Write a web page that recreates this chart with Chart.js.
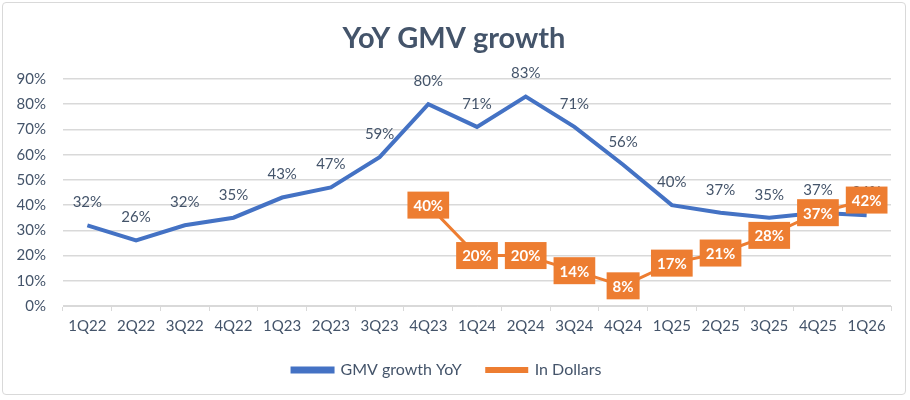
<!DOCTYPE html>
<html>
<head>
<meta charset="utf-8">
<script src="https://cdn.jsdelivr.net/npm/chart.js@4.4.1/dist/chart.umd.min.js"></script>
<style>
    html, body { margin: 0; padding: 0; background: #fff; }
    #wrap {
        position: absolute;
        left: 2px;
        top: 2px;
        width: 904px;
        height: 393px;
        border: 1px solid #d9d9d9;
        border-radius: 4px;
        box-sizing: border-box;
    }
    canvas { display: block; }
</style>
</head>
<body>
<div id="wrap"><canvas id="growthChart"></canvas></div>
<script>
const quarters = ["1Q22", "2Q22", "3Q22", "4Q22", "1Q23", "2Q23", "3Q23", "4Q23", "1Q24", "2Q24", "3Q24", "4Q24", "1Q25", "2Q25", "3Q25", "4Q25", "1Q26"];
const gmvGrowth = [32, 26, 32, 35, 43, 47, 59, 80, 71, 83, 71, 56, 40, 37, 35, 37, 36];
const inDollars = [null, null, null, null, null, null, null, 40, 20, 20, 14, 8, 17, 21, 28, 37, 42];
const yTicks = [0, 10, 20, 30, 40, 50, 60, 70, 80, 90];
const chartTitle = "YoY GMV growth";

const COLORS = {
    BLUE: "#4472C4",
    ORANGE: "#ED7D31",
    TEXT: "#44546A",
    GRID: "#d9d9d9",
};
const FONT = "Lato, 'Open Sans', sans-serif";

// title drawn at the middle of the whole canvas (built-in one is shifted by the padding)
const centeredTitle = {
    id: "centeredTitle",
    afterDraw(chart) {
        const ctx = chart.ctx;
        ctx.save();
        ctx.font = `bold 29px ${FONT}`;
        ctx.fillStyle = COLORS.TEXT;
        ctx.textAlign = "center";
        ctx.textBaseline = "middle";
        ctx.fillText(chartTitle, chart.width / 2, 36);
        ctx.restore();
    },
};

// draws the value labels (blue ones above the point, orange ones in a filled box)
const valueLabels = {
    id: "valueLabels",
    afterDatasetsDraw(chart) {
        const ctx = chart.ctx;
        ctx.save();
        ctx.textAlign = "center";
        ctx.textBaseline = "middle";

        const blueMeta = chart.getDatasetMeta(0);
        ctx.font = `15px ${FONT}`;
        ctx.fillStyle = COLORS.TEXT;
        blueMeta.data.forEach((pt, i) => {
            const v = chart.data.datasets[0].data[i];
            if (v == null) return;
            ctx.fillText(v + "%", pt.x, pt.y - 23);
        });

        const orangeMeta = chart.getDatasetMeta(1);
        ctx.font = `bold 15px ${FONT}`;
        orangeMeta.data.forEach((pt, i) => {
            const v = chart.data.datasets[1].data[i];
            if (v == null) return;
            const txt = v + "%";
            const w = ctx.measureText(txt).width + 12;
            const h = 27;
            ctx.fillStyle = COLORS.ORANGE;
            ctx.fillRect(pt.x - w / 2, pt.y - h / 2, w, h);
            ctx.fillStyle = "#fff";
            ctx.fillText(txt, pt.x, pt.y + 1);
        });
        ctx.restore();
    },
};

function createChart(canvasID) {
    const content = document.getElementById(canvasID);
    if (!content) return;

    return new Chart(content, {
        type: "line",
        data: {
            labels: quarters,
            datasets: [
                {
                    label: "GMV growth YoY",
                    data: gmvGrowth,
                    borderColor: COLORS.BLUE,
                    backgroundColor: COLORS.BLUE,
                    borderWidth: 4,
                    pointRadius: 0,
                    tension: 0,
                },
                {
                    label: "In Dollars",
                    data: inDollars,
                    borderColor: COLORS.ORANGE,
                    backgroundColor: COLORS.ORANGE,
                    borderWidth: 3,
                    pointRadius: 0,
                    tension: 0,
                },
            ],
        },
        options: {
            responsive: true,
            maintainAspectRatio: false,
            animation: false,
            layout: {
                padding: { left: 0, right: 14, top: 76, bottom: 6 },
            },
            scales: {
                x: {
                    offset: true,
                    grid: {
                        offset: true,
                        drawOnChartArea: false,
                        drawTicks: true,
                        tickLength: 5,
                        color: COLORS.GRID,
                    },
                    border: { color: COLORS.GRID, width: 1 },
                    ticks: {
                        color: COLORS.TEXT,
                        font: { family: FONT, size: 15 },
                        maxRotation: 0,
                        autoSkip: false,
                        padding: 6,
                    },
                },
                y: {
                    min: 0,
                    max: 90,
                    afterBuildTicks: (axis) => {
                        axis.ticks = yTicks.map((v) => ({ value: v }));
                    },
                    afterFit: (axis) => {
                        axis.width = 60;
                    },
                    grid: {
                        color: COLORS.GRID,
                        lineWidth: 1.5,
                        drawTicks: false,
                    },
                    border: { display: false },
                    ticks: {
                        color: COLORS.TEXT,
                        font: { family: FONT, size: 15 },
                        padding: 17,
                        callback: (v) => v + "%",
                    },
                },
            },
            plugins: {
                title: { display: false },
                legend: {
                    position: "bottom",
                    labels: {
                        color: COLORS.TEXT,
                        font: { family: FONT, size: 16 },
                        boxWidth: 40,
                        boxHeight: 3,
                        padding: 21,
                        generateLabels: (chart) => {
                            const items = Chart.defaults.plugins.legend.labels.generateLabels(chart);
                            // a bit more room between the two entries
                            items[0].text = items[0].text + " ";
                            return items;
                        },
                    },
                },
                tooltip: { enabled: false },
            },
        },
        plugins: [valueLabels, centeredTitle],
    });
}

createChart("growthChart");
</script>
</body>
</html>
